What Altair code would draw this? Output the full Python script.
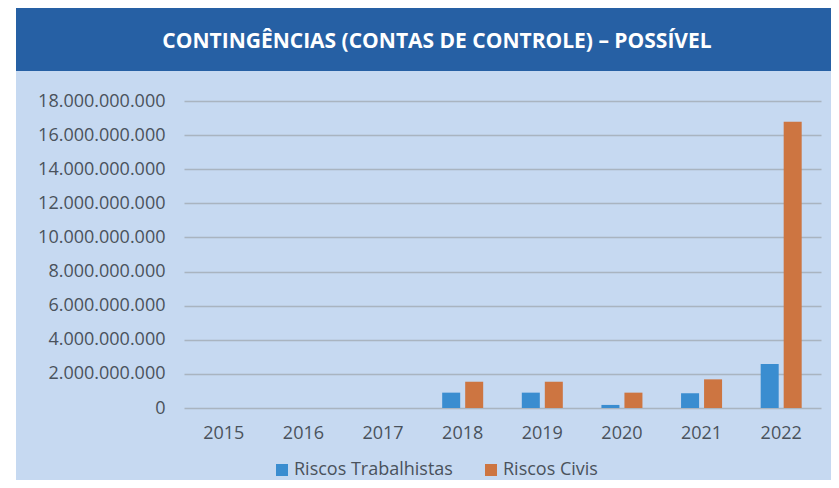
import altair as alt
import pandas as pd

years = ["2015", "2016", "2017", "2018", "2019", "2020", "2021", "2022"]
riscos_trabalhistas = [0, 0, 0, 0.90e9, 0.90e9, 0.18e9, 0.86e9, 2.58e9]
riscos_civis = [0, 0, 0, 1.54e9, 1.54e9, 0.90e9, 1.68e9, 16.78e9]
series = ["Riscos Trabalhistas", "Riscos Civis"]
colors = ["#3a8dd0", "#cd7541"]
y_ticks = [0, 2e9, 4e9, 6e9, 8e9, 10e9, 12e9, 14e9, 16e9, 18e9]
title_text = "CONTINGÊNCIAS (CONTAS DE CONTROLE) – POSSÍVEL"

rows = []
for i, yr in enumerate(years):
    rows.append({"ano": yr, "serie": series[0], "valor": riscos_trabalhistas[i]})
    rows.append({"ano": yr, "serie": series[1], "valor": riscos_civis[i]})
df = pd.DataFrame(rows)

FONT = "Open Sans"
TXT = "#4a525c"
one = pd.DataFrame({"k": [0]})

white_strip = alt.Chart(one).mark_rect(color="white").encode(
    x=alt.value(-176), x2=alt.value(-168), y=alt.value(-93), y2=alt.value(387))
band = alt.Chart(one).mark_rect(color="#2660a4").encode(
    x=alt.value(-168), x2=alt.value(655), y=alt.value(-93), y2=alt.value(-30))
title = alt.Chart(one).mark_text(
    text=title_text, font=FONT, fontSize=21, fontWeight="bold", color="white",
    align="center", baseline="middle").encode(x=alt.value(253), y=alt.value(-59))

label_expr = "replace(replace(replace(replace(format(datum.value, ',d'), ',', '.'), ',', '.'), ',', '.'), ',', '.')"

bars = alt.Chart(df).mark_bar().encode(
    x=alt.X("ano:N", sort=years,
            scale=alt.Scale(paddingInner=0.485, paddingOuter=0.2425),
            axis=alt.Axis(title=None, labelAngle=0, domain=False, ticks=False,
                          labelPadding=16, labelFontSize=18, labelColor=TXT,
                          labelFont=FONT)),
    xOffset=alt.XOffset("serie:N", sort=series,
                        scale=alt.Scale(paddingInner=0.217, paddingOuter=0)),
    y=alt.Y("valor:Q", scale=alt.Scale(domain=[0, 18e9], nice=False),
            axis=alt.Axis(values=y_ticks, labelExpr=label_expr, title=None,
                          domain=False, ticks=False, gridColor="#a9b4c0",
                          gridWidth=1.5, labelPadding=19, labelFontSize=18,
                          labelColor=TXT, labelFont=FONT)),
    color=alt.Color("serie:N", sort=series,
                    scale=alt.Scale(domain=series, range=colors),
                    legend=alt.Legend(title=None, orient="none", legendX=89,
                                      legendY=360, direction="horizontal",
                                      symbolType="square", symbolSize=144,
                                      symbolStrokeWidth=0, labelFontSize=18,
                                      labelOffset=3, columnPadding=29,
                                      padding=0, labelColor=TXT,
                                      labelFont=FONT)),
)

chart = alt.layer(white_strip, band, title, bars).properties(
    width=637, height=307,
    autosize=alt.AutoSizeParams(type="none"),
    padding={"left": 176, "top": 93, "right": 10, "bottom": 72},
    background="#c6d9f1",
).configure_view(stroke=None)

chart.save("out.html", embed_options={"renderer": "svg", "actions": False})
